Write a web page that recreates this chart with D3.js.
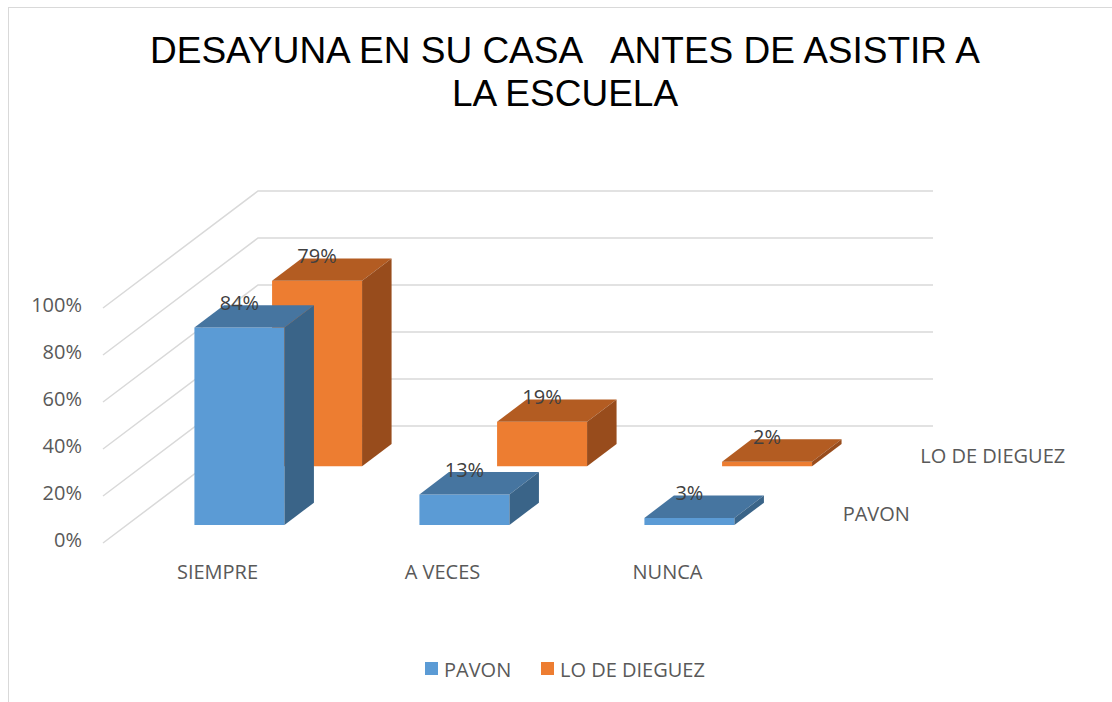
<!DOCTYPE html>
<html>
<head>
<meta charset="utf-8">
<script src="https://cdn.jsdelivr.net/npm/d3@7"></script>
<style>
  body { margin: 0; background: #fff; }
  text { font-family: "Open Sans", sans-serif; }
</style>
</head>
<body>
<script>
const width = 1112;
const height = 702;

// datos
const categories = ["SIEMPRE", "A VECES", "NUNCA"];
const series = ["PAVON", "LO DE DIEGUEZ"];
const pavon = [0.84, 0.13, 0.03];
const loDeDieguez = [0.79, 0.19, 0.02];
const yTicks = [0, 0.2, 0.4, 0.6, 0.8, 1];
const titleLines = ["DESAYUNA EN SU CASA   ANTES DE ASISTIR A", "LA ESCUELA"];

const colors = {
    "PAVON": { front: "#5B9BD5", top: "#4675A0", side: "#3A6488" },
    "LO DE DIEGUEZ": { front: "#ED7D31", top: "#B35C22", side: "#984C1C" }
};

// profundidad del plano trasero
const depthX = 155;
const depthY = -117;

const svg = d3.select("body")
    .append("svg")
    .attr("width", width)
    .attr("height", height);

// marco
svg.append("rect")
    .attr("x", 8.5).attr("y", 7.5)
    .attr("width", 1120).attr("height", 710)
    .attr("fill", "none")
    .attr("stroke", "#D9D9D9");

// escalas
const x = d3.scaleBand()
    .domain(categories)
    .range([103, 778])
    .paddingInner(0.6)
    .paddingOuter(0.3);

const y = d3.scaleLinear()
    .domain([0, 1])
    .range([543, 308]);

const z = d3.scaleBand()
    .domain(series)
    .range([0, 1])
    .paddingInner(0.62)
    .paddingOuter(0.308);

const proj = (px, py, pz) => [px + depthX * pz, py + depthY * pz];

// titulo
svg.append("g")
    .selectAll("text")
    .data(titleLines)
    .enter()
    .append("text")
    .attr("x", 565)
    .attr("y", (d, i) => 63 + i * 43)
    .attr("text-anchor", "middle")
    .style("font-family", "'Liberation Sans', Arial, sans-serif")
    .style("white-space", "pre")
    .attr("font-size", 37)
    .attr("fill", "#000")
    .text(d => d);

// lineas de cuadricula
const x0 = x.range()[0], x1 = x.range()[1];
svg.append("g")
    .selectAll("polyline")
    .data(yTicks)
    .enter()
    .append("polyline")
    .attr("points", d => [proj(x0, y(d), 0), proj(x0, y(d), 1), proj(x1, y(d), 1)].map(p => p.join(",")).join(" "))
    .attr("fill", "none")
    .attr("stroke", "#D9D9D9")
    .attr("stroke-width", 1.5);

// eje Y
const yAxis = svg.append("g")
    .attr("transform", `translate(${x0},-3)`)
    .call(d3.axisLeft(y).tickValues(yTicks).tickFormat(d3.format(".0%")).tickSize(0).tickPadding(21));
yAxis.select(".domain").remove();
yAxis.selectAll("text")
    .attr("font-size", 20)
    .attr("fill", "#595959");

// eje X
const xAxis = svg.append("g")
    .attr("transform", `translate(2,${y(0) + 22})`)
    .call(d3.axisBottom(x).tickSize(0).tickPadding(0));
xAxis.select(".domain").remove();
xAxis.selectAll("text")
    .attr("font-size", 20)
    .attr("fill", "#595959");

// etiquetas de serie (eje de profundidad)
svg.append("g")
    .selectAll("text")
    .data(series)
    .enter()
    .append("text")
    .attr("x", d => proj(x1, y(0), z(d) + z.bandwidth() / 2)[0] + 26)
    .attr("y", d => proj(x1, y(0), z(d) + z.bandwidth() / 2)[1])
    .attr("dominant-baseline", "central")
    .attr("font-size", 20)
    .attr("fill", "#595959")
    .text(d => d);

// barras 3D (de atras hacia adelante)
const rows = [
    { name: "LO DE DIEGUEZ", values: loDeDieguez },
    { name: "PAVON", values: pavon }
];

const pts = arr => arr.map(p => p.join(",")).join(" ");

rows.forEach(row => {
    const c = colors[row.name];
    const za = z(row.name);
    const zb = za + z.bandwidth();
    const g = svg.append("g");
    const bars = g.selectAll("g")
        .data(categories.map((cat, i) => ({ cat: cat, v: row.values[i] })))
        .enter()
        .append("g");

    bars.append("polygon")
        .attr("points", d => {
            const xa = x(d.cat), xb = xa + x.bandwidth();
            return pts([proj(xa, y(d.v), za), proj(xb, y(d.v), za), proj(xb, y(0), za), proj(xa, y(0), za)]);
        })
        .attr("fill", c.front);

    bars.append("polygon")
        .attr("points", d => {
            const xa = x(d.cat), xb = xa + x.bandwidth();
            return pts([proj(xa, y(d.v), za), proj(xb, y(d.v), za), proj(xb, y(d.v), zb), proj(xa, y(d.v), zb)]);
        })
        .attr("fill", c.top);

    bars.append("polygon")
        .attr("points", d => {
            const xb = x(d.cat) + x.bandwidth();
            return pts([proj(xb, y(d.v), za), proj(xb, y(0), za), proj(xb, y(0), zb), proj(xb, y(d.v), zb)]);
        })
        .attr("fill", c.side);

    // etiquetas de datos
    bars.append("text")
        .attr("x", d => proj(x(d.cat) + x.bandwidth() / 2, y(d.v), za)[0])
        .attr("y", d => proj(x(d.cat), y(d.v), zb)[1] - 3)
        .attr("text-anchor", "middle")
        .attr("dominant-baseline", "central")
        .attr("font-size", 20)
        .attr("fill", "#404040")
        .text(d => d3.format(".0%")(d.v));
});

// leyenda
const legend = svg.append("g")
    .selectAll("g")
    .data(series)
    .enter()
    .append("g")
    .attr("transform", (d, i) => `translate(${[425, 541][i]},662)`);

legend.append("rect")
    .attr("width", 13)
    .attr("height", 13)
    .attr("fill", d => colors[d].front);

legend.append("text")
    .attr("x", 19)
    .attr("y", 7)
    .attr("dominant-baseline", "central")
    .attr("font-size", 20)
    .attr("fill", "#595959")
    .text(d => d);
</script>
</body>
</html>
